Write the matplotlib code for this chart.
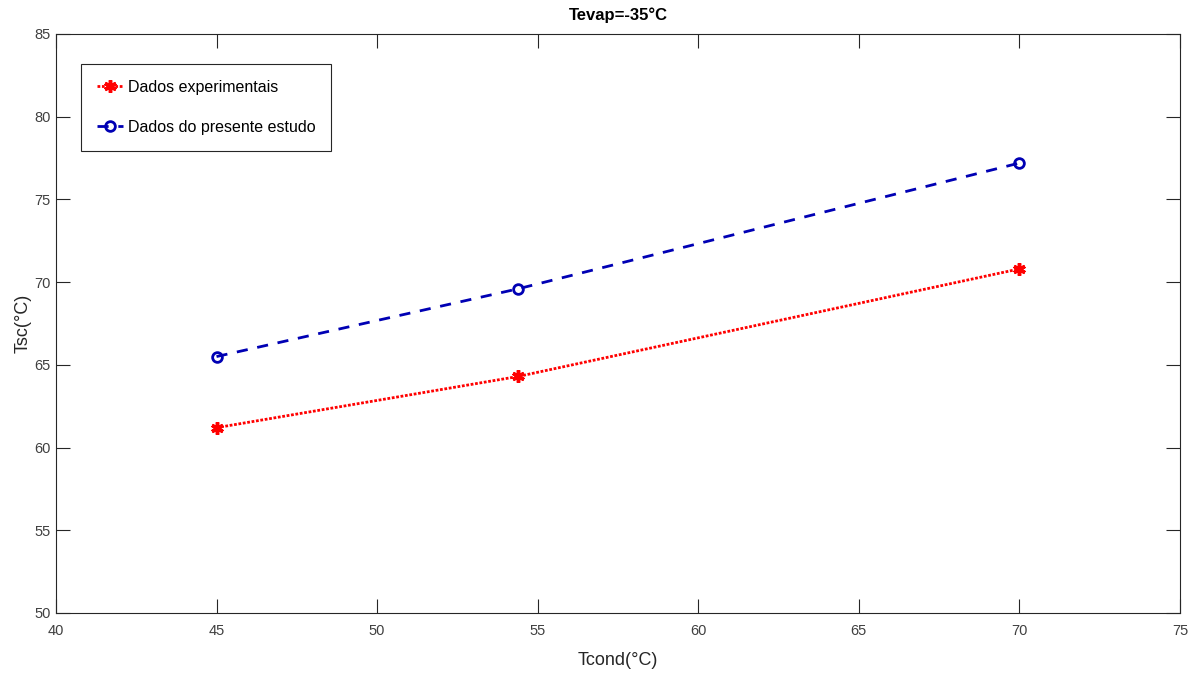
import matplotlib
matplotlib.use('Agg')
import matplotlib.pyplot as plt

plt.rcParams['font.family'] = ['Liberation Sans', 'DejaVu Sans']

# data
tcond = [45, 54.4, 70]
tsc_exp = [61.2, 64.3, 70.8]
tsc_model = [65.5, 69.6, 77.2]

fig = plt.figure(figsize=(11.98, 6.73), dpi=100)
ax = fig.add_axes([0.0467, 0.0892, 0.9383, 0.8603])

ax.plot(tcond, tsc_exp, color='red', linestyle=':', linewidth=2, dashes=(1, 0.6),
        marker=(6, 2, 0), markersize=9, markeredgewidth=2.5, label='Dados experimentais')
ax.plot(tcond, tsc_model, color='#0000b4', linestyle='--', linewidth=2, dashes=(4, 3.5),
        marker='o', markersize=7, markerfacecolor='none', markeredgewidth=2,
        label='Dados do presente estudo')

ax.set_xlim(40, 75)
ax.set_ylim(50, 85)
ax.set_xticks(range(40, 80, 5))
ax.set_yticks(range(50, 90, 5))
ax.tick_params(direction='in', top=True, right=True, length=10, width=0.8,
               colors='#262626', labelcolor='#404040', labelsize=10.5)
ax.tick_params(axis='x', pad=8)
ax.tick_params(axis='y', pad=4)
for s in ax.spines.values():
    s.set_color('#262626')
    s.set_linewidth(0.8)

ax.set_title('Tevap=-35°C', fontsize=12, fontweight='bold', pad=10)
ax.set_xlabel('Tcond(°C)', fontsize=13, color='#262626', labelpad=10)
ax.set_ylabel('Tsc(°C)', fontsize=13, color='#262626', labelpad=2)

leg = ax.legend(loc='upper left', bbox_to_anchor=(0.0225, 0.948), fontsize=11.5,
                fancybox=False, framealpha=1, edgecolor='#262626',
                handlelength=1.6, handletextpad=0.3, borderpad=1.0, labelspacing=1.55,
                borderaxespad=0)
leg.get_frame().set_linewidth(0.8)

fig.savefig('out.png', dpi=100)
